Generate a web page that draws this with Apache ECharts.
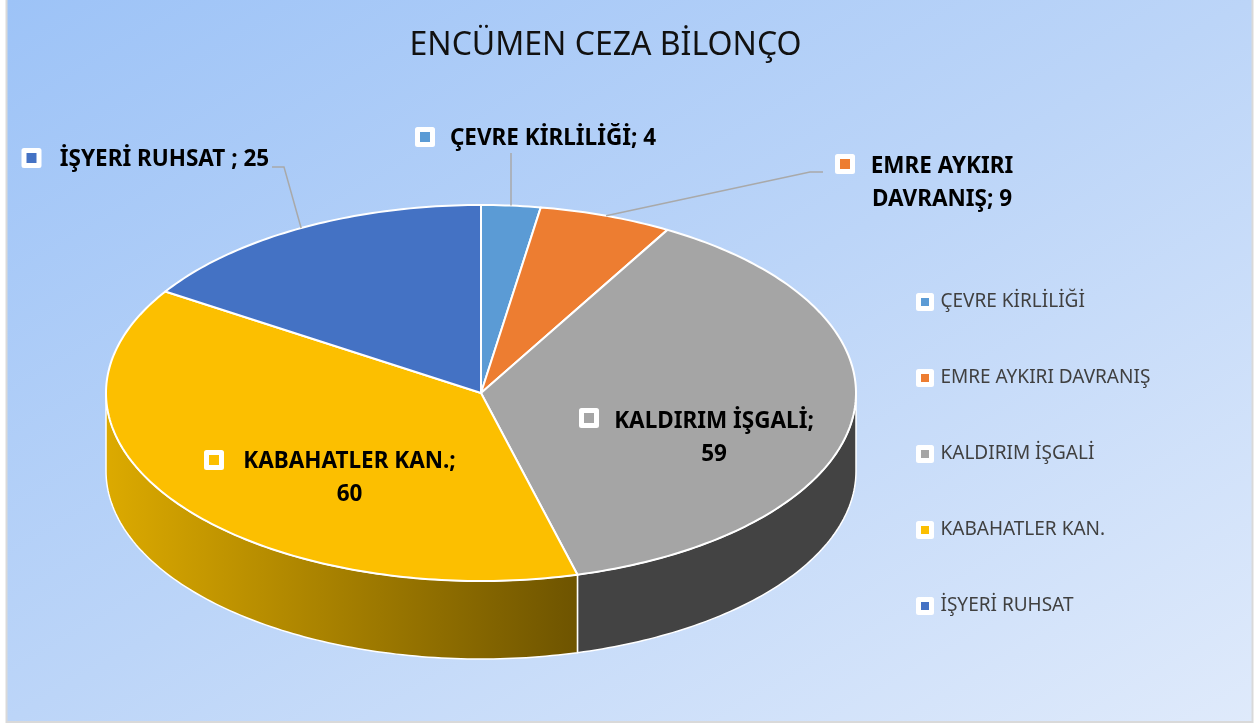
<!DOCTYPE html>
<html>
<head>
<meta charset="utf-8">
<style>html,body{margin:0;padding:0;background:#fff}#c{width:1260px;height:725px}</style>
<script src="https://cdn.jsdelivr.net/npm/echarts@6/dist/echarts.min.js"></script>
</head>
<body>
<div id="c"></div>
<script>
const titleText = 'ENCÜMEN CEZA BİLONÇO';
const categories = ['ÇEVRE KİRLİLİĞİ', 'EMRE AYKIRI DAVRANIŞ', 'KALDIRIM İŞGALİ', 'KABAHATLER KAN.', 'İŞYERİ RUHSAT'];
const values = [4, 9, 59, 60, 25];
const sliceColors = ['#5B9BD5', '#ED7D31', '#A5A5A5', '#FCBF00', '#4472C4'];
const sideColors = ['#5B9BD5', '#ED7D31', '#434343', null, '#4472C4'];
const labelLines = [['ÇEVRE KİRLİLİĞİ; 4'], ['EMRE AYKIRI', 'DAVRANIŞ; 9'], ['KALDIRIM İŞGALİ;', '59'], ['KABAHATLER KAN.;', '60'], ['İŞYERİ RUHSAT ; 25']];

// pie geometry
const CX = 481, CY = 393, RX = 375, RY = 188, DEPTH = 78;
// callout placement: marker centre, text centre, leader route after the rim point
const callouts = [
  {m: [425, 137], t: [553, 139], leader: [[511, 153]]},
  {m: [845, 164], t: [942, 183], leader: [[810, 172], [823, 172]]},
  {m: [589, 418], t: [714, 438], leader: null},
  {m: [214, 460], t: [349.5, 478], leader: null},
  {m: [31.5, 158], t: [164.5, 160], leader: [[284, 167], [272, 167]]}
];

const total = values.reduce((a, b) => a + b, 0);
const pt = (deg, dy) => {
  const r = deg * Math.PI / 180;
  return [CX + RX * Math.sin(r), CY - RY * Math.cos(r) + (dy || 0)];
};
const arc = (a0, a1, dy) => {
  const n = Math.max(2, Math.ceil(Math.abs(a1 - a0)));
  const out = [];
  for (let i = 0; i <= n; i++) out.push(pt(a0 + (a1 - a0) * i / n, dy));
  return out;
};
const yellowSide = {type: 'linear', x: 106, y: 0, x2: 577, y2: 0, global: true,
  colorStops: [{offset: 0, color: '#DCAA00'}, {offset: 1, color: '#6E5400'}]};

function sliceRender(idx) {
  return function (params, api) {
    const start = values.slice(0, idx).reduce((a, b) => a + b, 0) / total * 360;
    const end = start + api.value(0) / total * 360;
    const mid = (start + end) / 2;
    const children = [];
    const s0 = Math.max(start, 90), s1 = Math.min(end, 270);
    if (s1 > s0) {
      children.push({
        type: 'polygon', z2: 1,
        shape: {points: arc(s0, s1, 0).concat(arc(s1, s0, DEPTH))},
        style: {fill: sideColors[idx] || yellowSide, stroke: '#fff', lineWidth: 1.5, lineJoin: 'round'}
      });
    }
    children.push({
      type: 'polygon', z2: 5 + idx,
      shape: {points: [[CX, CY]].concat(arc(start, end, 0))},
      style: {fill: sliceColors[idx], stroke: '#fff', lineWidth: 2, lineJoin: 'round'}
    });
    const c = callouts[idx];
    if (c.leader) {
      children.push({
        type: 'polyline', z2: 20,
        shape: {points: [pt(mid, 0)].concat(c.leader)},
        style: {fill: null, stroke: '#A9A9A9', lineWidth: 1.5}
      });
    }
    children.push({
      type: 'rect', z2: 21,
      shape: {x: c.m[0] - 7.5, y: c.m[1] - 7.5, width: 15, height: 15},
      style: {fill: sliceColors[idx], stroke: '#fff', lineWidth: 5, lineJoin: 'round'}
    });
    children.push({
      type: 'text', z2: 22, x: c.t[0], y: c.t[1],
      style: {text: labelLines[idx].join('\n'), fill: '#000', align: 'center', verticalAlign: 'middle',
        font: 'bold 22.5px "Noto Sans"', lineHeight: 33}
    });
    return {type: 'group', children};
  };
}

const chart = echarts.init(document.getElementById('c'), null, {renderer: 'canvas'});
chart.setOption({
  animation: false,
  backgroundColor: '#fff',
  title: {
    text: titleText, left: 600.5, top: 25, textAlign: 'center',
    textStyle: {fontFamily: 'Noto Sans', fontSize: 32, fontWeight: 'normal', color: '#111'}
  },
  legend: {
    orient: 'vertical', left: 911, top: 287, itemWidth: 13, itemHeight: 13, itemGap: 56,
    icon: 'rect', selectedMode: false, data: categories,
    itemStyle: {borderColor: '#fff', borderWidth: 5, borderJoin: 'round'},
    textStyle: {fontFamily: 'Noto Sans', fontSize: 19, color: '#404040', padding: [0, 0, 0, 4], lineHeight: 20}
  },
  graphic: [{
    type: 'rect', silent: true, z: -10,
    shape: {x: 6.5, y: -2, width: 1246, height: 724},
    style: {
      stroke: '#D9D9D9', lineWidth: 2,
      fill: {type: 'linear', x: 7, y: 0, x2: 634, y2: 1081, global: true,
        colorStops: [{offset: 0, color: '#9DC3F7'}, {offset: 0.5, color: '#BCD5F8'}, {offset: 1, color: '#DFEAFB'}]}
    }
  }],
  series: categories.map((name, i) => ({
    type: 'custom', name, coordinateSystem: 'none', data: [values[i]],
    itemStyle: {color: sliceColors[i]}, renderItem: sliceRender(i), silent: true
  }))
});
</script>
</body>
</html>
